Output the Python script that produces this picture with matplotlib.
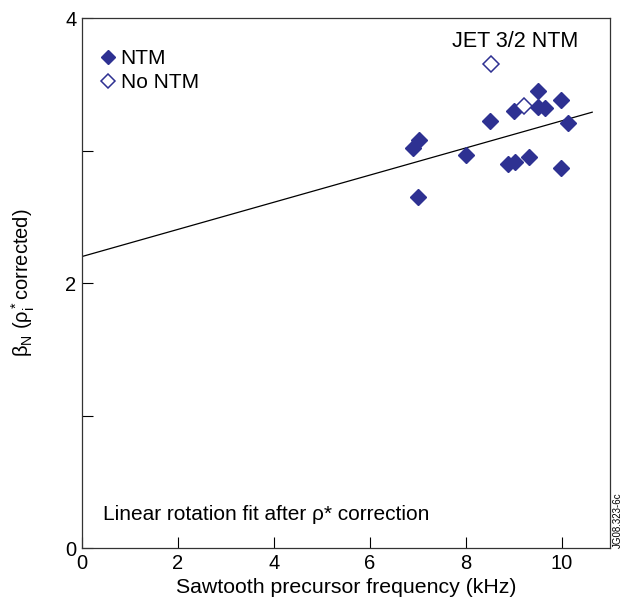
import numpy as np
import matplotlib
matplotlib.use("Agg")
import matplotlib.pyplot as plt

# NTM discharges (filled) and no-NTM discharges (open)
ntm_freq = [9.51, 9.99, 9.51, 9.65, 9.01, 8.50, 10.12, 7.03, 6.90, 8.00,
            8.88, 9.02, 9.32, 9.99, 7.01]
ntm_beta = [3.45, 3.38, 3.33, 3.32, 3.30, 3.22, 3.21, 3.08, 3.02, 2.97,
            2.90, 2.91, 2.95, 2.87, 2.65]
nontm_freq = [8.52, 9.21]
nontm_beta = [3.65, 3.34]

# linear fit line
fit_x = [0.0, 10.63]
fit_intercept = 2.20
fit_slope = 0.1025

NAVY = "#2e3192"

plt.rcParams.update({"font.family": ["Liberation Sans", "DejaVu Sans"],
                     "font.size": 15, "mathtext.fontset": "custom",
                     "mathtext.rm": "Liberation Sans",
                     "mathtext.it": "Liberation Sans",
                     "mathtext.default": "regular"})

fig = plt.figure(figsize=(6.23, 6.02), dpi=100)
ax = fig.add_axes([0.1316, 0.0897, 0.8475, 0.8803])

fx = np.array(fit_x)
ax.plot(fx, fit_intercept + fit_slope * fx, color="black", lw=0.9, zorder=1)

ax.plot(ntm_freq, ntm_beta, "D", ms=8.5, color=NAVY, mec=NAVY,
        linestyle="none", label="NTM", zorder=3)
ax.plot(nontm_freq, nontm_beta, "D", ms=8.5, mfc="white", mec=NAVY,
        mew=1.1, linestyle="none", label="No NTM", zorder=3)

ax.set_xlim(0, 11)
ax.set_ylim(0, 4)
ax.set_xticks([0, 2, 4, 6, 8, 10])
ax.set_yticks([0, 1, 2, 3, 4])
ax.set_yticklabels(["0", "", "2", "", "4"])
ax.tick_params(direction="in", length=8, width=0.8, labelsize=14.5, pad=4)
for s in ax.spines.values():
    s.set_linewidth(0.9)
    s.set_color("#333333")

ax.set_xlabel("Sawtooth precursor frequency (kHz)", fontsize=15.3,
              labelpad=4)
ax.set_ylabel("β$_N$ (ρ$_i^*$corrected)", fontsize=14.5, labelpad=20)

ax.legend(loc="upper left", bbox_to_anchor=(0.0, 0.98), frameon=False,
          handlelength=0.5, handletextpad=0.35, labelspacing=0.22,
          borderaxespad=0.6, fontsize=15, markerscale=0.85)

ax.text(0.82, 0.975, "JET 3/2 NTM", transform=ax.transAxes, ha="center",
        va="top", fontsize=15.5)
ax.text(0.04, 0.045, "Linear rotation fit after ρ* correction",
        transform=ax.transAxes, ha="left", va="bottom", fontsize=15)
fig.text(0.992, 0.136, "JG08.323-6c", rotation=90, ha="center", va="center",
         fontsize=7)

fig.savefig("out.png", dpi=100)
